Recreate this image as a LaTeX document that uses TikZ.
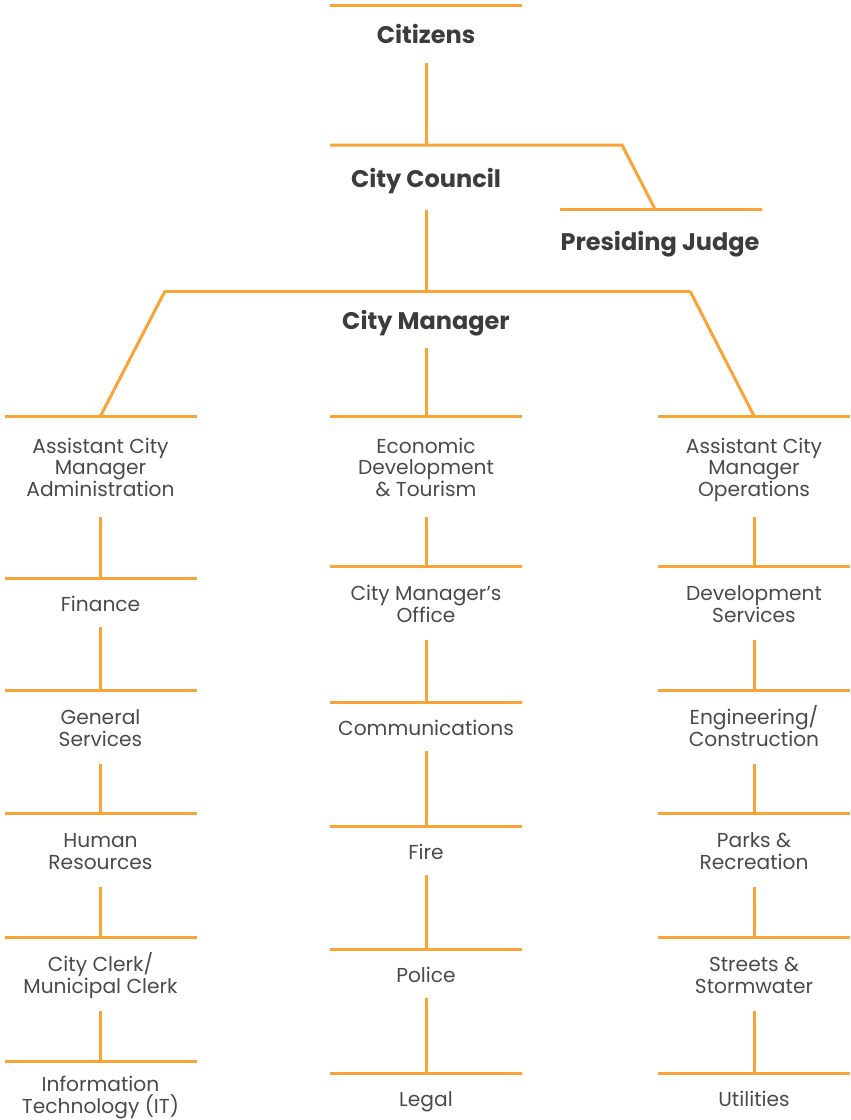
\documentclass[tikz,border=0pt]{standalone}
\usepackage{fontspec}
\setmainfont{Poppins}
\definecolor{org}{HTML}{F8A437}
\definecolor{dk}{HTML}{3C3C3C}
\definecolor{md}{HTML}{4A4A4A}
\newcommand\unitbox[6]{%
  \coordinate (#1-l) at (#2-96,#3);
  \coordinate (#1-r) at (#2+96,#3);
  \coordinate (#1-t) at (#2,#3);
  \draw[orgline] (#1-l) -- (#1-r);
  \node[unit] (#1) at (#2,#4) {#5};
  \coordinate (#1-b) at (#2,#6);
}
\begin{document}
\begin{tikzpicture}[x=1pt,y=-1pt,
  orgline/.style={draw=org, line width=3pt, line join=miter},
  head/.style={font=\bfseries\fontsize{24}{27}\selectfont, text=dk, inner sep=0pt, anchor=base},
  unit/.style={font=\fontsize{20.2}{21.5}\selectfont, text=md, align=center, inner sep=0pt, anchor=base}]
\useasboundingbox (0,0) rectangle (851,1120);

% top level
\coordinate (cit-l) at (330,5); \coordinate (cit-r) at (522,5);
\draw[orgline] (cit-l) -- (cit-r);
\node[head] (cit) at (426,43) {Citizens};
\coordinate (cit-b) at (426,63);

\coordinate (cou-l) at (330,145); \coordinate (cou-t) at (426,145); \coordinate (cou-k) at (622,145);
\node[head] (cou) at (426,187) {City Council};
\coordinate (cou-b) at (426,210);

\coordinate (jud-l) at (560,209); \coordinate (jud-t) at (655,209); \coordinate (jud-r) at (762,209);
\draw[orgline] (cou-l) -- (cou-k) -- (jud-t);
\draw[orgline] (jud-l) -- (jud-r);
\node[head] (jud) at (660,250) {Presiding Judge};

\coordinate (mgr-kl) at (165,291); \coordinate (mgr-t) at (426,291); \coordinate (mgr-kr) at (690,291);
\draw[orgline] (mgr-kl) -- (mgr-kr);
\node[head] (mgr) at (426,329) {City Manager};
\coordinate (mgr-b) at (426,348);

\draw[orgline] (cit-b) -- (cou-t);
\draw[orgline] (cou-b) -- (mgr-t);

% left column (text placed by its last baseline)
\unitbox{L0}{100.5}{416}{496}{Assistant City\\Manager\\Administration}{517}
\unitbox{L1}{100.5}{578}{611}{Finance}{627}
\unitbox{L2}{100.5}{690}{746}{General\\Services}{764}
\unitbox{L3}{100.5}{813}{869}{Human\\Resources}{887}
\unitbox{L4}{100.5}{937}{993}{City Clerk/\\Municipal Clerk}{1011}
\unitbox{L5}{100.5}{1061}{1113}{Information\\Technology (IT)}{1120}

% center column
\unitbox{C0}{426}{416}{496}{Economic\\Development\\\& Tourism}{517}
\unitbox{C1}{426}{566}{622}{City Manager’s\\Office}{640}
\unitbox{C2}{426}{702}{735}{Communications}{751}
\unitbox{C3}{426}{826}{859}{Fire}{875}
\unitbox{C4}{426}{949}{982}{Police}{998}
\unitbox{C5}{426}{1073}{1106}{Legal}{1120}

% right column
\unitbox{R0}{754}{416}{496}{Assistant City\\Manager\\Operations}{517}
\unitbox{R1}{754}{566}{622}{Development\\Services}{640}
\unitbox{R2}{754}{690}{746}{Engineering/\\Construction}{764}
\unitbox{R3}{754}{813}{869}{Parks \&\\Recreation}{887}
\unitbox{R4}{754}{937}{993}{Streets \&\\Stormwater}{1011}
\unitbox{R5}{754}{1073}{1106}{Utilities}{1120}

% manager connectors
\draw[orgline] (mgr-kl) -- (L0-t);
\draw[orgline] (mgr-kr) -- (R0-t);
\draw[orgline] (mgr-b) -- (C0-t);

% column connectors
\foreach \c in {L,C,R}{
  \foreach \i/\j in {0/1,1/2,2/3,3/4,4/5}{
    \draw[orgline] (\c\i-b) -- (\c\j-t);
  }
}
\end{tikzpicture}
\end{document}
